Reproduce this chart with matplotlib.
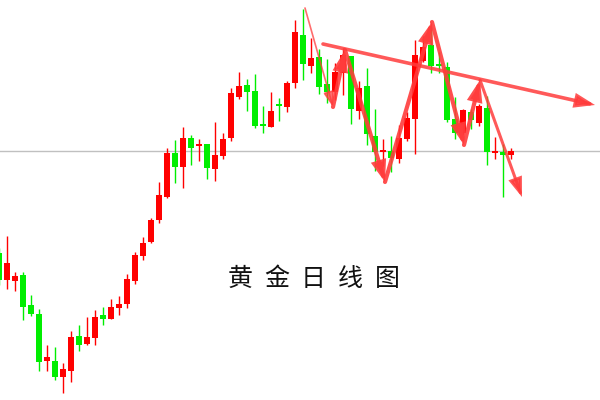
import matplotlib
matplotlib.use("Agg")
import matplotlib.pyplot as plt
from matplotlib.patches import FancyArrowPatch
import numpy as np

# ---- data (price units) ----
opens  = [147,120,119,125,95,86,39,39,23,29,64,56,62,85,81,92,96,119,144,158,
          180,203,247,233,262,254,256,231,244,262,303,315,309,276,273,296,293,317,365,334,
          343,316,308,327,344,289,314,264,248,249,241,261,281,339,355,336,333,281,267,288,
          277,292,247,248,245]
highs  = [152,164,128,128,105,91,55,53,37,69,75,83,90,93,101,104,126,148,163,182,
          218,252,260,273,265,261,256,278,267,312,328,321,326,294,308,302,319,380,391,362,
          351,341,337,352,344,319,332,291,261,264,275,288,360,364,372,348,338,303,291,291,
          296,304,263,256,252]
lows   = [115,111,109,80,84,29,29,20,7,18,49,55,55,75,81,85,92,116,140,157,
          177,202,217,212,235,239,221,219,241,259,301,289,272,267,273,279,288,312,320,327,
          306,297,300,305,276,281,255,229,234,228,237,259,246,338,327,327,278,261,265,271,
          274,235,241,203,241]
closes = [120,137,124,93,86,38,43,23,31,63,55,63,83,81,93,96,121,145,157,180,
          205,247,233,262,252,255,232,245,261,307,314,308,274,274,289,294,317,368,336,342,
          313,308,328,345,291,312,266,248,250,242,262,282,345,353,334,334,280,267,290,280,
          294,248,249,245,249]

ref_level = 249
title_chars = ["黄", "金", "日", "线", "图"]

# annotation path (candle index, price)
zigzag = [(41.75, 293), (43.25, 350), (48.25, 218), (54.125, 378),
          (58.125, 255), (60.125, 320)]
first_seg = [(38.25, 392), (41.75, 293)]
last_seg = [(60.125, 320), (65.375, 203)]
trend = [(40.5, 356), (74.5, 295)]

UP = "#ff0000"
DOWN = "#00ee00"
ARROW = "#ff3c3c"

fig = plt.figure(figsize=(6, 4), dpi=100)
ax = fig.add_axes([0, 0, 1, 1])
ax.set_xlim(0.125, 75.125)
ax.set_ylim(0, 400)
ax.axis("off")

ax.axhline(ref_level, color="#c0c0c0", lw=1.0, zorder=1)

x = np.arange(len(opens))
o = np.array(opens, float); c = np.array(closes, float)
h = np.array(highs, float); l = np.array(lows, float)
up = c >= o
cols = [UP if u else DOWN for u in up]
ax.vlines(x, l, h, colors=cols, lw=1.0, zorder=2)
bottom = np.minimum(o, c)
height = np.maximum(np.abs(c - o), 1.6)
ax.bar(x, height, bottom=bottom, width=0.66, color=cols, linewidth=0, zorder=3)

# title text
for i, ch in enumerate(title_chars):
    ax.text(30.1 + i * 4.6, 121, ch, fontsize=18, ha="center", va="center",
            family=["Noto Sans CJK SC", "DejaVu Sans"], color="#111111")

def arrow(p0, p1, lw, alpha=0.9, ms=12):
    a = FancyArrowPatch(p0, p1, arrowstyle="-|>,head_length=0.85,head_width=0.3",
                        mutation_scale=ms, lw=lw, color=ARROW, alpha=alpha,
                        shrinkA=0, shrinkB=0, joinstyle="miter", zorder=5)
    ax.add_patch(a)

arrow(first_seg[0], first_seg[1], 1.2, alpha=0.75, ms=11)
for p0, p1 in zip(zigzag[:-1], zigzag[1:]):
    arrow(p0, p1, 3.0)
arrow(last_seg[0], last_seg[1], 2.2, alpha=0.85)
arrow(trend[0], trend[1], 2.6, alpha=0.85)

fig.savefig("out.png", dpi=100, facecolor="white")
